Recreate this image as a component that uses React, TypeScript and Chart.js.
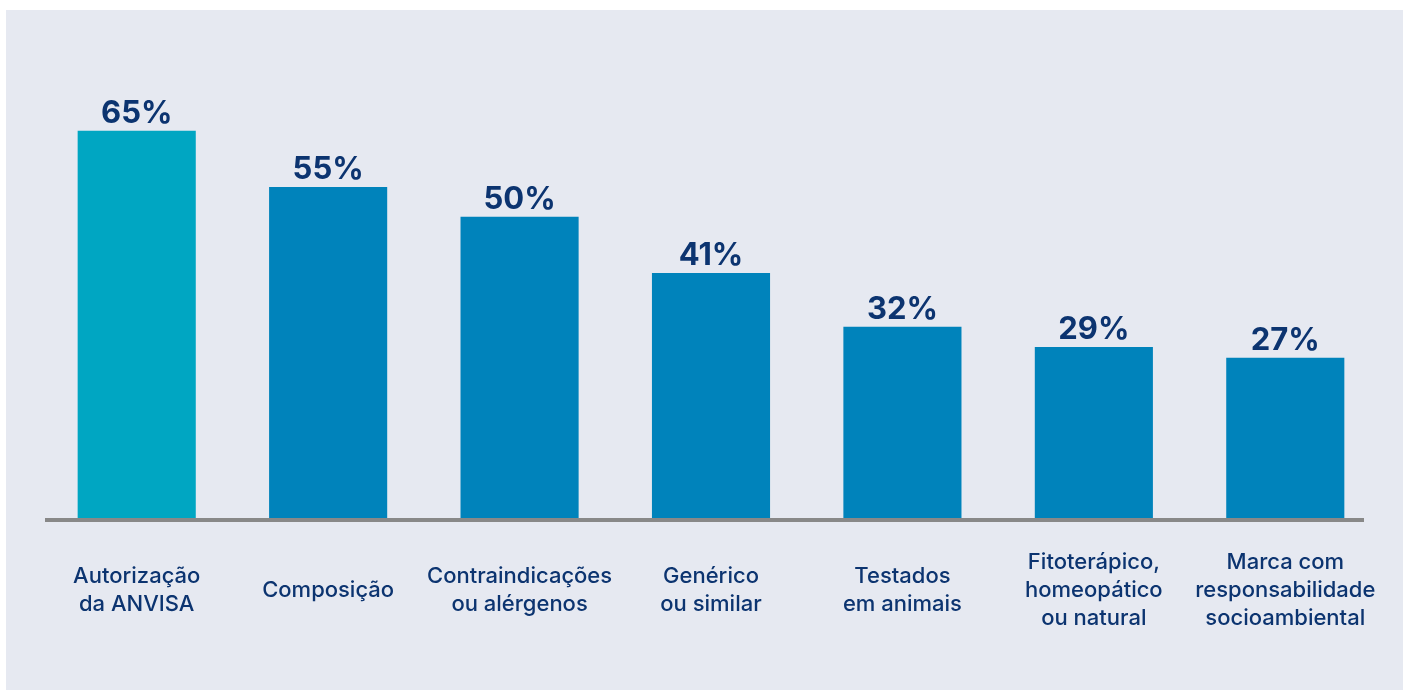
import React, { useEffect, useRef } from "react";
import { Chart, registerables } from "chart.js";

Chart.register(...registerables);

const categories: string[][] = [
  ["Autorização", "da ANVISA"],
  ["Composição"],
  ["Contraindicações", "ou alérgenos"],
  ["Genérico", "ou similar"],
  ["Testados", "em animais"],
  ["Fitoterápico,", "homeopático", "ou natural"],
  ["Marca com", "responsabilidade", "socioambiental"],
];
const values: number[] = [64.8, 55.4, 50.4, 41.0, 32.0, 28.6, 26.8];
const barColors: string[] = ["#00a6c2", "#0083bb", "#0083bb", "#0083bb", "#0083bb", "#0083bb", "#0083bb"];

const NAVY = "#0c3470";
const FONT = "Inter, Lato, sans-serif";

const valueLabels = {
  id: "valueLabels",
  afterDatasetsDraw(chart: any) {
    const ctx = chart.ctx;
    const meta = chart.getDatasetMeta(0);
    ctx.save();
    ctx.fillStyle = NAVY;
    ctx.font = `bold 31px ${FONT}`;
    ctx.textAlign = "center";
    ctx.textBaseline = "alphabetic";
    meta.data.forEach((bar: any, i: number) => {
      ctx.fillText(Math.round(values[i]) + "%", bar.x, bar.y - 8);
    });
    ctx.restore();
  },
};

const baseLine = {
  id: "baseLine",
  afterDatasetsDraw(chart: any) {
    const { ctx, chartArea } = chart;
    ctx.save();
    ctx.strokeStyle = "#888888";
    ctx.lineWidth = 4;
    ctx.beginPath();
    ctx.moveTo(chartArea.left + 4, chartArea.bottom + 2);
    ctx.lineTo(chartArea.right - 17, chartArea.bottom + 2);
    ctx.stroke();
    ctx.restore();
  },
};

export default function App() {
  const ref = useRef<HTMLCanvasElement>(null);
  useEffect(() => {
    if (!ref.current) return;
    const chart = new Chart(ref.current, {
      type: "bar",
      data: {
        labels: categories,
        datasets: [
          {
            data: values,
            backgroundColor: barColors,
            borderWidth: 0,
            categoryPercentage: 1,
            barPercentage: 0.617,
          },
        ],
      },
      options: {
        animation: false,
        responsive: false,
        maintainAspectRatio: false,
        layout: { padding: { left: 35, right: 22, top: 30, bottom: 0 } },
        plugins: { legend: { display: false }, tooltip: { enabled: false } },
        scales: {
          x: {
            grid: { display: false, drawTicks: false },
            border: { display: false },
            afterFit: (s: any) => {
              s.height = 172;
              s.paddingLeft = 0;
              s.paddingRight = 0;
            },
            ticks: {
              color: NAVY,
              font: { family: FONT, size: 22, weight: 500, lineHeight: 28 / 22 },
              padding: 44,
              crossAlign: "center",
              maxRotation: 0,
              autoSkip: false,
            },
          },
          y: {
            display: false,
            min: 0,
            max: 80,
          },
        },
      },
      plugins: [valueLabels, baseLine],
    });
    return () => chart.destroy();
  }, []);
  return (
    <div
      style={{
        position: "absolute",
        left: 6,
        top: 10,
        width: 1397,
        height: 680,
        background: "#e6e9f1",
      }}
    >
      <canvas ref={ref} width={1397} height={680} style={{ display: "block" }} />
    </div>
  );
}
